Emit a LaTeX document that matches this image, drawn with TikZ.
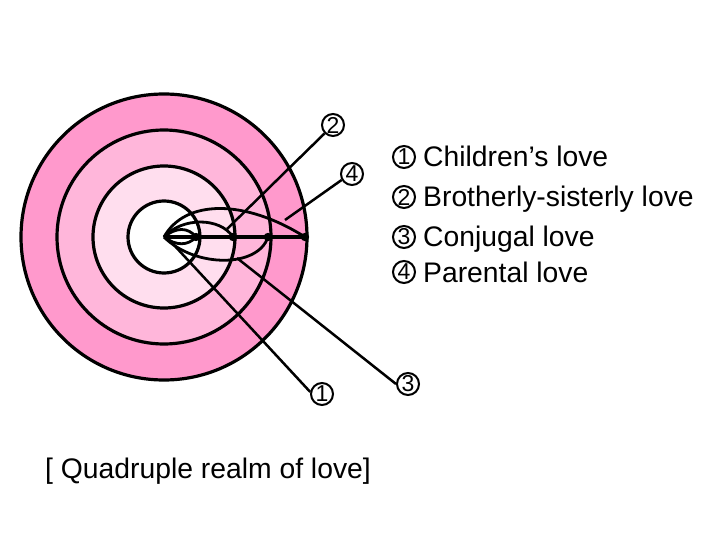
\documentclass[tikz,border=0pt]{standalone}
\usepackage{fontspec}
\setmainfont{Liberation Sans}
\definecolor{ringD}{RGB}{255,153,204}
\definecolor{ringC}{RGB}{255,182,218}
\definecolor{ringB}{RGB}{255,222,238}
\begin{document}
\begin{tikzpicture}[x=1pt,y=-1pt,
  txt/.style={font=\fontsize{28.3}{33}\selectfont,inner sep=0pt},
  num/.style={circle,draw,line width=2pt,minimum size=22pt,inner sep=0pt,font=\fontsize{23}{23}\selectfont},
  ringline/.style={draw,line width=3.2pt},
  lens/.style={line width=2.8pt},
  conn/.style={line width=2.5pt}]
\useasboundingbox (0,0) rectangle (720,540);
\coordinate (C) at (164,237);
\filldraw[fill=ringD,ringline] (C) circle[radius=143];
\filldraw[fill=ringC,ringline] (C) circle[radius=107];
\filldraw[fill=ringB,ringline] (C) circle[radius=71];
\filldraw[fill=white,ringline] (C) circle[radius=36];
\coordinate (d1) at (196,237);
\coordinate (d2) at (233,237);
\coordinate (d3) at (268,237);
\coordinate (d4) at (305,237);
% lenses
\draw[lens] (C) .. controls (176,227) and (188,227) .. (d1);
\draw[lens] (C) .. controls (176,246) and (188,246) .. (d1);
\draw[lens] (C) .. controls (182,217) and (220,217) .. (d2);
\draw[lens] (C) .. controls (195,268) and (258,268) .. (d3);
\draw[lens] (C) .. controls (185,199) and (245,199) .. (d4);
\draw[line width=3.4pt] (C) -- (d4);
\foreach \d in {d1,d2,d3,d4} \fill (\d) circle[radius=4.2];
% connector ends
\coordinate (e1) at (173,244);
\coordinate (e2) at (227,229);
\coordinate (e3) at (237,258);
\coordinate (e4) at (285,220);
% labels
\node[num] (l2) at (333,125) {2};
\node[num] (l4) at (352,174) {4};
\node[num] (l1) at (322,394) {1};
\node[num] (l3) at (408,384) {3};
\draw[conn] (l2.225) -- (e2);
\draw[conn] (l4.210) -- (e4);
\draw[conn] (l1.170) -- (e1);
\draw[conn] (l3.west) -- (e3);
% legend
\node[num] (k1) at (404,157) {1};
\node[num] (k2) at (404,197) {2};
\node[num] (k3) at (404,237) {3};
\node[num] (k4) at (404,272) {4};
\node[txt,anchor=base west] (t1) at (423,167) {Children’s love};
\node[txt,anchor=base west] (t2) at (423,207) {Brotherly-sisterly love};
\node[txt,anchor=base west] (t3) at (423,246) {Conjugal love};
\node[txt,anchor=base west] (t4) at (423,282) {Parental love};
\node[txt,anchor=base west] (title) at (45,478) {[ Quadruple realm of love]};
\end{tikzpicture}
\end{document}
